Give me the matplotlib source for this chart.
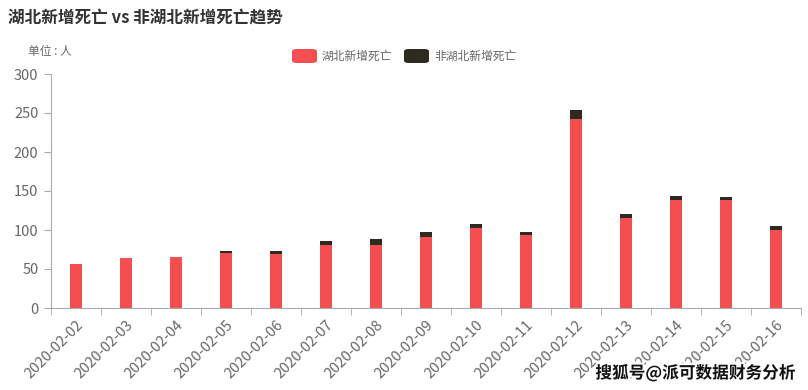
import matplotlib
matplotlib.use("Agg")
import matplotlib.pyplot as plt
import matplotlib.patheffects as pe
from matplotlib.patches import FancyBboxPatch
import numpy as np

plt.rcParams['font.family'] = ['Noto Sans CJK SC', 'DejaVu Sans']

dates = ['2020-02-02', '2020-02-03', '2020-02-04', '2020-02-05', '2020-02-06',
         '2020-02-07', '2020-02-08', '2020-02-09', '2020-02-10', '2020-02-11',
         '2020-02-12', '2020-02-13', '2020-02-14', '2020-02-15', '2020-02-16']
hubei = [56, 64, 65, 70, 69, 81, 81, 91, 103, 94, 242, 116, 139, 139, 100]
non_hubei = [1, 0, 0, 3, 4, 5, 8, 6, 5, 3, 12, 5, 4, 3, 5]
series_names = ['湖北新增死亡', '非湖北新增死亡']
yticks = [0, 50, 100, 150, 200, 250, 300]

red = '#f44e50'
dark = '#2f2a1f'
axis_c = '#aaaaaa'
text_c = '#666666'

fig = plt.figure(figsize=(8.08, 3.9), dpi=100)
ax = fig.add_axes([51/808, 1-308/390, 750/808, 234/390])

x = np.arange(len(dates))
ax.bar(x, hubei, width=0.24, color=red, zorder=2)
ax.bar(x, non_hubei, width=0.24, bottom=hubei, color=dark, zorder=2)

ax.set_xlim(-0.5, len(dates) - 0.5)
ax.set_ylim(0, 300)
ax.set_yticks(yticks)
ax.set_xticks(x)
ax.set_xticklabels(dates, rotation=45, ha='right', rotation_mode='anchor')
ax.set_xticks(np.arange(len(dates) + 1) - 0.5, minor=True)

for s in ['top', 'right']:
    ax.spines[s].set_visible(False)
for s in ['left', 'bottom']:
    ax.spines[s].set_color(axis_c)
ax.tick_params(axis='x', which='major', length=0, pad=7, labelsize=10.5, colors=text_c)
ax.tick_params(axis='x', which='minor', length=5, color=axis_c, direction='out')
ax.tick_params(axis='y', length=5, color=axis_c, labelsize=10.5, colors=text_c, pad=4)
for lbl in ax.get_xticklabels() + ax.get_yticklabels():
    lbl.set_color(text_c)

fig.text(8/808, 1-18/390, '湖北新增死亡 vs 非湖北新增死亡趋势', fontsize=12,
         fontweight='bold', color='#333333', va='center', ha='left')
fig.text(28/808, 1-52/390, '单位 : 人', fontsize=8.5, color=text_c, va='center', ha='left')

# legend
leg_y = 1 - 56/390
items = [(292, red, series_names[0]), (404, dark, series_names[1])]
for xp, c, name in items:
    patch = FancyBboxPatch((xp/808, leg_y - 7/390), 25/808, 14/390,
                           boxstyle='round,pad=0,rounding_size=0.006',
                           transform=fig.transFigure, facecolor=c, edgecolor='none')
    fig.patches.append(patch)
    fig.text((xp + 30)/808, leg_y, name, fontsize=8.5, color=text_c, va='center', ha='left')

fig.text(795/808, 1-373/390, '搜狐号@派可数据财务分析', fontsize=12, fontweight='bold',
         color='#111111', ha='right', va='center',
         path_effects=[pe.withStroke(linewidth=3, foreground='white')])

fig.savefig('out.png', dpi=100)
